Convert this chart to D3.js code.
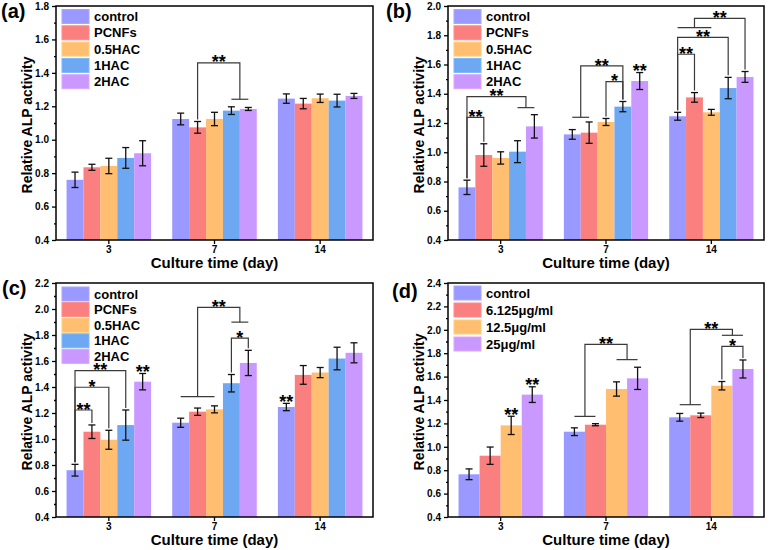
<!DOCTYPE html>
<html><head><meta charset="utf-8">
<script src="https://cdn.jsdelivr.net/npm/d3@7"></script>
<style>
body{margin:0;background:#fff}
text{font-family:"Liberation Sans",Arial,sans-serif;font-weight:bold;fill:#000}
</style>
</head><body>
<svg id="chart" width="770" height="550"></svg>
<script>
// ---------- data ----------
const days = ["3", "7", "14"];
const seriesABC = ["control", "PCNFs", "0.5HAC", "1HAC", "2HAC"];
const seriesD = ["control", "6.125μg/ml", "12.5μg/ml", "25μg/ml"];
const colorsABC = ["#9999FF", "#FA7F7F", "#FFBE70", "#6FA8F2", "#CA99FF"];
const colorsD = ["#9999FF", "#FA7F7F", "#FFBE70", "#CA99FF"];

// values[series][day]
const valuesA = [[0.760, 1.124, 1.246], [0.835, 1.074, 1.216], [0.843, 1.124, 1.248], [0.891, 1.174, 1.234], [0.919, 1.184, 1.262]];
const errorsA = [[0.046, 0.035, 0.028], [0.018, 0.035, 0.031], [0.046, 0.040, 0.025], [0.062, 0.023, 0.038], [0.075, 0.009, 0.015]];

const valuesB = [[0.760, 1.122, 1.246], [0.981, 1.134, 1.375], [0.961, 1.207, 1.273], [1.004, 1.312, 1.439], [1.177, 1.487, 1.515]];
const errorsB = [[0.049, 0.033, 0.027], [0.077, 0.073, 0.033], [0.042, 0.024, 0.020], [0.075, 0.035, 0.073], [0.080, 0.058, 0.037]];

const valuesC = [[0.760, 1.125, 1.246], [1.056, 1.210, 1.493], [0.994, 1.228, 1.511], [1.107, 1.429, 1.619], [1.441, 1.585, 1.663]];
const errorsC = [[0.045, 0.035, 0.028], [0.052, 0.028, 0.072], [0.073, 0.027, 0.039], [0.116, 0.067, 0.087], [0.063, 0.097, 0.077]];

const valuesD = [[0.765, 1.129, 1.252], [0.924, 1.189, 1.269], [1.183, 1.494, 1.522], [1.446, 1.585, 1.665]];
const errorsD = [[0.046, 0.033, 0.033], [0.074, 0.009, 0.019], [0.078, 0.061, 0.036], [0.067, 0.095, 0.077]];

// significance brackets: group, bars on side a / side b, top value, drop values for multi-bar sides
const bracketsA = [
  {g: 1, a: [1], b: [3, 4], y: 1.46, ya: null, yb: 1.242, label: "**"}
];
const bracketsB = [
  {g: 0, a: [0], b: [1], y: 1.239, ya: null, yb: null, label: "**"},
  {g: 0, a: [0], b: [3, 4], y: 1.38, ya: null, yb: 1.305, label: "**"},
  {g: 1, a: [0, 1], b: [3], y: 1.59, ya: 1.239, yb: null, label: "**"},
  {g: 1, a: [2], b: [3], y: 1.483, ya: null, yb: null, label: "*"},
  {g: 2, a: [0], b: [1], y: 1.67, ya: null, yb: null, label: "**"},
  {g: 2, a: [0], b: [3], y: 1.786, ya: null, yb: null, label: "**"},
  {g: 2, a: [0, 1, 2], b: [4], y: 1.916, ya: 1.852, yb: null, label: "**"}
];
const bracketsC = [
  {g: 0, a: [0], b: [1], y: 1.223, ya: null, yb: null, label: "**"},
  {g: 0, a: [0], b: [2], y: 1.398, ya: null, yb: null, label: "*"},
  {g: 0, a: [0], b: [3], y: 1.526, ya: null, yb: null, label: "**"},
  {g: 1, a: [0, 1, 2], b: [3, 4], y: 2.012, ya: 1.326, yb: 1.899, label: "**"},
  {g: 1, a: [3], b: [4], y: 1.776, ya: null, yb: null, label: "*"}
];
const bracketsD = [
  {g: 1, a: [0, 1], b: [2, 3], y: 1.876, ya: 1.26, yb: 1.745, label: "**"},
  {g: 2, a: [0, 1], b: [2, 3], y: 2.004, ya: 1.36, yb: 1.953, label: "**"},
  {g: 2, a: [2], b: [3], y: 1.859, ya: null, yb: null, label: "*"}
];
// stars placed directly above a bar
const marksA = [];
const marksB = [{g: 1, bar: 4, label: "**"}];
const marksC = [{g: 0, bar: 4, label: "**"}, {g: 2, bar: 0, label: "**"}];
const marksD = [{g: 0, bar: 2, label: "**"}, {g: 0, bar: 3, label: "**"}];

// ---------- drawing ----------
const svg = d3.select("#chart");
const starSize = 18;

function panel(p) {
  const g = svg.append("g");
  const x = d3.scaleBand().domain(days).range([p.l, p.r]).paddingInner(0.2).paddingOuter(0.1);
  const xs = d3.scaleBand().domain(d3.range(p.series.length)).range([0, x.bandwidth()]);
  const y = d3.scaleLinear().domain([0.4, p.yMax]).range([p.b, p.t]);
  const cx = (gi, si) => x(days[gi]) + xs(si) + xs.bandwidth() / 2;
  const errTop = (gi, si) => y(p.values[si][gi] + p.errors[si][gi]);

  // bars
  p.series.forEach((s, si) => {
    g.append("g").selectAll("rect").data(p.values[si]).join("rect")
      .attr("x", (d, i) => x(days[i]) + xs(si))
      .attr("width", xs.bandwidth())
      .attr("y", d => y(d))
      .attr("height", d => y(0.4) - y(d))
      .attr("fill", p.colors[si]);
  });
  // error bars
  p.series.forEach((s, si) => {
    const eg = g.append("g").attr("stroke", "#111").attr("stroke-width", 1.3).attr("fill", "none");
    p.values[si].forEach((v, gi) => {
      const e = p.errors[si][gi];
      const xc = cx(gi, si);
      const y1 = y(v + e), y2 = y(v - e);
      eg.append("line").attr("x1", xc).attr("x2", xc).attr("y1", y1).attr("y2", y2);
      eg.append("line").attr("x1", xc - 3.5).attr("x2", xc + 3.5).attr("y1", y1).attr("y2", y1);
      eg.append("line").attr("x1", xc - 3.5).attr("x2", xc + 3.5).attr("y1", y2).attr("y2", y2);
    });
  });

  // brackets
  const bg = g.append("g").attr("stroke", "#3a3a3a").attr("stroke-width", 1.2).attr("fill", "none");
  function side(gi, bars, yv) {
    const xsArr = bars.map(b => cx(gi, b));
    const xm = d3.mean(xsArr);
    let yb;
    if (bars.length === 1) {
      yb = errTop(gi, bars[0]) - 2;
    } else {
      yb = y(yv);
      bg.append("line").attr("x1", d3.min(xsArr)).attr("x2", d3.max(xsArr)).attr("y1", yb).attr("y2", yb);
    }
    return {x: xm, y: yb};
  }
  p.brackets.forEach(br => {
    const A = side(br.g, br.a, br.ya);
    const B = side(br.g, br.b, br.yb);
    const yt = y(br.y);
    bg.append("path").attr("d", `M${A.x},${A.y}V${yt}H${B.x}V${B.y}`);
    g.append("text").attr("x", (A.x + B.x) / 2).attr("y", yt + starSize * 0.42 - 2)
      .attr("text-anchor", "middle").style("font-size", starSize + "px").text(br.label);
  });
  p.marks.forEach(m => {
    g.append("text").attr("x", cx(m.g, m.bar)).attr("y", errTop(m.g, m.bar) + starSize * 0.42 - 3)
      .attr("text-anchor", "middle").style("font-size", starSize + "px").text(m.label);
  });

  // axes
  const majors = d3.range(0, Math.round((p.yMax - 0.4) / 0.2) + 1).map(i => 0.4 + i * 0.2);
  const minors = d3.range(0, majors.length - 1).map(i => 0.5 + i * 0.2);
  const ya = g.append("g").attr("transform", `translate(${p.l},0)`)
    .call(d3.axisLeft(y).tickValues(majors).tickFormat(d3.format(".1f")).tickSize(4).tickPadding(3));
  const ym = g.append("g").attr("transform", `translate(${p.l},0)`)
    .call(d3.axisLeft(y).tickValues(minors).tickFormat("").tickSize(2));
  const xa = g.append("g").attr("transform", `translate(0,${p.b})`)
    .call(d3.axisBottom(x).tickSize(4).tickPadding(2));
  [ya, ym, xa].forEach(a => {
    a.select(".domain").remove();
    a.selectAll("line").attr("stroke", "#000").attr("stroke-width", 1.3);
    a.selectAll("text").style("font-size", "10px").style("font-family", "Liberation Sans, Arial, sans-serif").style("font-weight", "bold").attr("fill", "#000");
  });

  // frame
  g.append("rect").attr("x", p.l).attr("y", p.t).attr("width", p.r - p.l).attr("height", p.b - p.t)
    .attr("fill", "none").attr("stroke", "#000").attr("stroke-width", 1.5);

  // legend
  const lg = g.append("g");
  p.series.forEach((s, si) => {
    const yc = p.t + p.legY0 + si * p.legDy;
    lg.append("rect").attr("x", p.l + 6).attr("y", yc - 7).attr("width", 27).attr("height", 14)
      .attr("fill", p.colors[si]).attr("stroke", d3.color(p.colors[si]).brighter(0.25)).attr("stroke-width", 1);
    lg.append("text").attr("x", p.l + 38).attr("y", yc + 4.6).style("font-size", "13px").text(s);
  });

  // titles
  g.append("text").attr("transform", `translate(${p.l - 24},${(p.t + p.b) / 2 + 2}) rotate(-90)`)
    .attr("text-anchor", "middle").style("font-size", "14px").text("Relative ALP activity");
  g.append("text").attr("x", (p.l + p.r) / 2).attr("y", p.b + 28)
    .attr("text-anchor", "middle").style("font-size", "15px").text("Culture time (day)");
  g.append("text").attr("x", p.lx).attr("y", p.ly).style("font-size", "20px").text(p.label);
}

panel({l: 56, t: 6, r: 373, b: 240, yMax: 1.8, series: seriesABC, colors: colorsABC, values: valuesA, errors: errorsA,
  brackets: bracketsA, marks: marksA, legY0: 10.5, legDy: 16.3, label: "(a)", lx: 1, ly: 18});
panel({l: 448, t: 6, r: 764, b: 240, yMax: 2.0, series: seriesABC, colors: colorsABC, values: valuesB, errors: errorsB,
  brackets: bracketsB, marks: marksB, legY0: 10.5, legDy: 16.3, label: "(b)", lx: 386, ly: 18});
panel({l: 56, t: 283, r: 373, b: 517, yMax: 2.2, series: seriesABC, colors: colorsABC, values: valuesC, errors: errorsC,
  brackets: bracketsC, marks: marksC, legY0: 11, legDy: 15.6, label: "(c)", lx: 2, ly: 295});
panel({l: 448, t: 283, r: 764, b: 517, yMax: 2.4, series: seriesD, colors: colorsD, values: valuesD, errors: errorsD,
  brackets: bracketsD, marks: marksD, legY0: 10, legDy: 17, label: "(d)", lx: 392, ly: 298});
</script>
</body></html>
